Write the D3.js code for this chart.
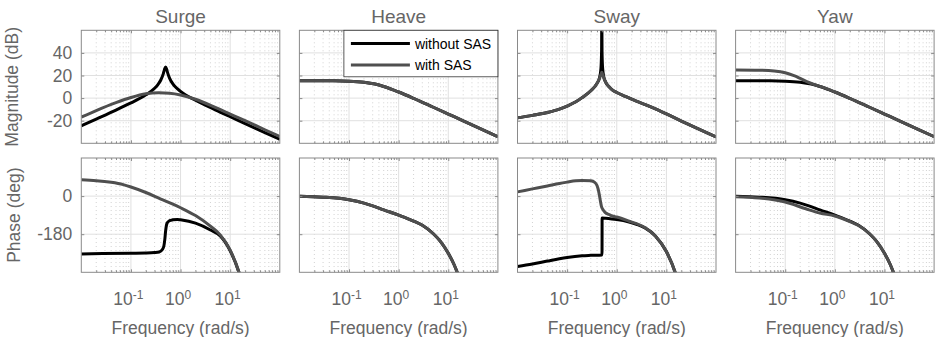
<!DOCTYPE html>
<html>
<head>
<meta charset="utf-8">
<style>
  body { margin: 0; background: #fff; }
  svg { font-family: "Liberation Sans", Arial, sans-serif; }
</style>
</head>
<body>
<div id="chart"></div>
<script src="https://d3js.org/d3.v7.min.js"></script>
<script>
// panel titles and axis ticks
const titles = ['Surge', 'Heave', 'Sway', 'Yaw'];
const magTicks = [-20, 0, 20, 40];
const phaseTicks = [-180, 0];
const freqTicks = [0.1, 1, 10];
const freqExponents = ['-1', '0', '1'];
const legendLabels = ['without SAS', 'with SAS'];

// [frequency rad/s, magnitude dB]
const surgeMagWithout = [[0.01,-24.6],[0.02,-18.6],[0.05,-10.6],[0.1,-4.3],[0.2,2.9],[0.3,8.7],[0.35,12],[0.4,16],[0.45,21.7],[0.475,25.4],[0.5,27.5],[0.525,25.6],[0.55,22.3],[0.6,17.7],[0.7,12.5],[0.8,9.6],[1,5.9],[2,-1.9],[5,-10.4],[10,-16.5],[20,-22.5],[50,-30.5],[100,-36.5]];
const surgeMagWith = [[0.01,-16.8],[0.02,-11],[0.05,-4],[0.1,0.5],[0.2,3.8],[0.365,4.7],[0.6,4.3],[1,2.8],[2,-1],[5,-8.2],[10,-14.1],[20,-20],[50,-28],[100,-34]];
const heaveMagWithout = [[0.01,15.4],[0.05,15.3],[0.1,15],[0.2,14],[0.335,12.4],[0.5,10.3],[1,5.4],[2,-0.2],[5,-8.1],[10,-14.1],[20,-20.1],[50,-28.1],[100,-34.1]];
const heaveMagWith = [[0.01,15.4],[0.05,15.3],[0.1,15],[0.2,14],[0.335,12.4],[0.5,10.3],[1,5.4],[2,-0.2],[5,-8.1],[10,-14.1],[20,-20.1],[50,-28.1],[100,-34.1]];
const swayMagWithout = [[0.01,-17.5],[0.02,-15.3],[0.04,-12.8],[0.07,-9.8],[0.1,-7],[0.15,-3.3],[0.2,0.4],[0.3,6.5],[0.4,13],[0.45,18],[0.48,26],[0.495,42],[0.5,80],[0.505,42],[0.52,26],[0.55,18.5],[0.6,14],[0.7,10],[0.8,7.5],[1,5],[1.5,1.5],[2,-0.9],[5,-8],[10,-14],[20,-20.3],[50,-28.3],[100,-34.4]];
const swayMagWith = [[0.01,-17.5],[0.02,-15.3],[0.04,-12.8],[0.07,-9.8],[0.1,-7],[0.15,-3.3],[0.2,0.4],[0.3,6.5],[0.4,13],[0.45,17.5],[0.48,21],[0.5,22.8],[0.52,21],[0.55,17.8],[0.6,14],[0.7,10],[0.8,7.5],[1,5],[1.5,1.5],[2,-0.9],[5,-8],[10,-14],[20,-20.3],[50,-28.3],[100,-34.4]];
const yawMagWithout = [[0.01,15.4],[0.05,15.3],[0.1,15],[0.2,14],[0.335,12.4],[0.5,10.3],[1,5.4],[2,-0.2],[5,-8.1],[10,-14.1],[20,-20.1],[50,-28.1],[100,-34.1]];
const yawMagWith = [[0.01,24.9],[0.03,24.7],[0.06,24],[0.1,22.4],[0.15,19.8],[0.2,17.4],[0.3,13.8],[0.4,11.7],[0.5,10.35],[0.7,8.1],[1,5.4],[2,-0.2],[5,-8.1],[10,-14.1],[20,-20.1],[50,-28.1],[100,-34.1]];

// [frequency rad/s, phase deg]
const surgePhaseWithout = [[0.01,-273],[0.1,-270],[0.2,-269],[0.3,-267],[0.37,-264],[0.43,-252],[0.46,-237],[0.48,-208],[0.5,-165],[0.52,-137],[0.54,-126],[0.6,-116],[0.7,-112],[0.86,-110],[1,-112],[2,-128],[4,-160],[6.3,-188],[10,-258],[15,-360],[20,-470]];
const surgePhaseWith = [[0.01,77],[0.02,73],[0.04,65],[0.07,54],[0.1,43],[0.2,17],[0.4,-14],[0.7,-38],[1,-55],[2,-92],[4,-142],[6.3,-183],[10,-255],[15,-360],[20,-470]];
const heavePhaseWithout = [[0.01,-1],[0.03,-5],[0.1,-17],[0.2,-33],[0.3,-46],[0.5,-65],[1,-90],[2,-118],[3,-138],[5,-178],[7,-215],[10,-270],[13,-322],[15,-358],[20,-460]];
const heavePhaseWith = [[0.01,-1],[0.03,-5],[0.1,-17],[0.2,-33],[0.3,-46],[0.5,-65],[1,-90],[2,-118],[3,-138],[5,-178],[7,-215],[10,-270],[13,-322],[15,-358],[20,-460]];
const swayPhaseWithout = [[0.01,-333],[0.02,-321],[0.04,-307],[0.07,-296],[0.1,-290],[0.2,-282],[0.3,-280],[0.505,-278],[0.507,-104],[0.6,-105],[0.8,-108],[1,-111],[1.7,-121],[2.5,-133],[3.7,-150],[6,-188],[10,-262],[15,-360],[20,-470]];
const swayPhaseWith = [[0.01,20],[0.02,34],[0.04,48],[0.07,60],[0.1,66],[0.15,72],[0.2,74],[0.3,72],[0.36,65],[0.4,50],[0.43,25],[0.45,0],[0.47,-25],[0.49,-47],[0.52,-62],[0.59,-78],[0.7,-87],[0.81,-94],[1,-99],[1.7,-117],[3.7,-149],[6,-188],[10,-262],[15,-360],[20,-470]];
const yawPhaseWithout = [[0.01,-1],[0.03,-5],[0.1,-17],[0.2,-33],[0.3,-46],[0.5,-65],[1,-90],[2,-118],[3,-138],[5,-178],[7,-215],[10,-270],[13,-322],[15,-358],[20,-460]];
const yawPhaseWith = [[0.01,-3],[0.03,-9],[0.1,-28],[0.26,-60],[0.5,-80],[1,-94],[2,-120],[3,-139],[5,-178],[7,-215],[10,-270],[13,-322],[15,-358],[20,-460]];

const magSeries = [
  [surgeMagWithout, surgeMagWith],
  [heaveMagWithout, heaveMagWith],
  [swayMagWithout, swayMagWith],
  [yawMagWithout, yawMagWith]
];
const phaseSeries = [
  [surgePhaseWithout, surgePhaseWith],
  [heavePhaseWithout, heavePhaseWith],
  [swayPhaseWithout, swayPhaseWith],
  [yawPhaseWithout, yawPhaseWith]
];

const colors = ['#000000', '#4f4f4f'];
const textColor = '#666';
const axisColor = '#8a8a8a';

const width = 936, height = 337;
const panelW = 198.5, step = 218.1, left0 = 81.3;
const magTop = 30.3, magBot = 143.3, phTop = 158, phBot = 272.3;

const svg = d3.select('#chart').append('svg')
  .attr('width', width)
  .attr('height', height);

function drawPanel(id, x, y, yTicks, data, showX) {
  const [x0, x1] = x.range();
  const [yb, yt] = y.range();
  const g = svg.append('g');

  g.append('clipPath').attr('id', id)
    .append('rect').attr('x', x0).attr('y', yt).attr('width', x1 - x0).attr('height', yb - yt);

  // minor grid (dotted)
  const minor = x.ticks().filter(v => Math.abs(Math.log10(v) - Math.round(Math.log10(v))) > 1e-6);
  g.selectAll('.minor').data(minor).join('line')
    .attr('x1', d => x(d)).attr('x2', d => x(d))
    .attr('y1', yt).attr('y2', yb)
    .attr('stroke', '#d2d2d2').attr('stroke-width', 1)
    .attr('stroke-dasharray', '1,3');

  // major grid
  g.selectAll('.vmaj').data(freqTicks).join('line')
    .attr('x1', d => x(d)).attr('x2', d => x(d))
    .attr('y1', yt).attr('y2', yb)
    .attr('stroke', '#e0e0e0').attr('stroke-width', 1);
  g.selectAll('.hmaj').data(yTicks).join('line')
    .attr('x1', x0).attr('x2', x1)
    .attr('y1', d => y(d)).attr('y2', d => y(d))
    .attr('stroke', '#e0e0e0').attr('stroke-width', 1);

  // curves
  const line = d3.line()
    .x(d => x(d[0]))
    .y(d => y(d[1]))
    .curve(d3.curveMonotoneX);
  const lines = g.append('g').attr('clip-path', `url(#${id})`);
  data.forEach((s, k) => {
    lines.append('path')
      .datum(s)
      .attr('fill', 'none')
      .attr('stroke', colors[k])
      .attr('stroke-width', 3)
      .attr('stroke-linejoin', 'round')
      .attr('d', line);
  });

  // box
  g.append('rect')
    .attr('x', x0).attr('y', yt).attr('width', x1 - x0).attr('height', yb - yt)
    .attr('fill', 'none').attr('stroke', axisColor).attr('stroke-width', 1);

  // inner ticks on all sides
  const tickStyle = a => a.call(s => s.select('.domain').remove())
    .call(s => s.selectAll('line').attr('stroke', axisColor));
  g.append('g').attr('transform', `translate(0,${yb})`)
    .call(d3.axisBottom(x).tickValues(minor).tickSize(-2).tickFormat('')).call(tickStyle);
  g.append('g').attr('transform', `translate(0,${yt})`)
    .call(d3.axisTop(x).tickValues(minor).tickSize(-2).tickFormat('')).call(tickStyle);
  g.append('g').attr('transform', `translate(0,${yt})`)
    .call(d3.axisTop(x).tickValues(freqTicks).tickSize(-3).tickFormat('')).call(tickStyle);
  g.append('g').attr('transform', `translate(${x1},0)`)
    .call(d3.axisRight(y).tickValues(yTicks).tickSize(-3).tickFormat('')).call(tickStyle);

  // left axis with labels
  if (x0 < 100) {
    g.append('g').attr('transform', `translate(${x0},0)`)
      .call(d3.axisLeft(y).tickValues(yTicks).tickSize(-3).tickPadding(9).tickFormat(d => String(d)))
      .call(tickStyle)
      .call(s => s.selectAll('text').attr('fill', textColor).attr('font-size', 17.5));
  } else {
    g.append('g').attr('transform', `translate(${x0},0)`)
      .call(d3.axisLeft(y).tickValues(yTicks).tickSize(-3).tickFormat(''))
      .call(tickStyle);
  }

  const bottom = g.append('g').attr('transform', `translate(0,${yb})`)
    .call(d3.axisBottom(x).tickValues(freqTicks).tickSize(-3).tickPadding(20).tickFormat(''))
    .call(tickStyle);
  if (showX) {
    bottom.selectAll('text')
      .attr('fill', textColor)
      .attr('font-size', 17.5)
      .attr('dx', -3)
      .each(function (d, i) {
        const t = d3.select(this);
        t.append('tspan').text('10');
        t.append('tspan').attr('dy', '-0.45em').attr('font-size', 12).text(freqExponents[i]);
      });
  }
  return g;
}

titles.forEach((title, i) => {
  const l = left0 + i * step;
  const x = d3.scaleLog().domain([0.01, 100]).range([l, l + panelW]);
  const yMag = d3.scaleLinear().domain([-40, 60]).range([magBot, magTop]);
  const yPh = d3.scaleLinear().domain([-360, 180]).range([phBot, phTop]);

  drawPanel('clipm' + i, x, yMag, magTicks, magSeries[i], false);
  drawPanel('clipp' + i, x, yPh, phaseTicks, phaseSeries[i], true);

  svg.append('text')
    .attr('x', l + panelW / 2).attr('y', 23.3)
    .attr('text-anchor', 'middle')
    .attr('font-size', 19).attr('fill', textColor)
    .text(title);

  svg.append('text')
    .attr('x', l + panelW / 2).attr('y', 334)
    .attr('text-anchor', 'middle')
    .attr('font-size', 17.5).attr('fill', textColor)
    .text('Frequency (rad/s)');

  // legend in the Heave panel
  if (i === 1) {
    const lw = 154, lh = 46.5;
    const lx = l + panelW - lw, ly = magTop;
    const leg = svg.append('g');
    leg.append('rect')
      .attr('x', lx).attr('y', ly).attr('width', lw).attr('height', lh)
      .attr('fill', '#fff').attr('stroke', '#333').attr('stroke-width', 0.8);
    legendLabels.forEach((lab, k) => {
      const cy = ly + 13.2 + k * 21.5;
      leg.append('line')
        .attr('x1', lx + 7).attr('x2', lx + 66)
        .attr('y1', cy).attr('y2', cy)
        .attr('stroke', colors[k]).attr('stroke-width', 3);
      leg.append('text')
        .attr('x', lx + 71).attr('y', cy + 5)
        .attr('font-size', 14).attr('fill', '#000')
        .text(lab);
    });
  }
});

svg.append('text')
  .attr('transform', `translate(18,${(magTop + magBot) / 2}) rotate(-90)`)
  .attr('text-anchor', 'middle')
  .attr('font-size', 17.5).attr('fill', textColor)
  .text('Magnitude (dB)');

svg.append('text')
  .attr('transform', `translate(19.5,${(phTop + phBot) / 2}) rotate(-90)`)
  .attr('text-anchor', 'middle')
  .attr('font-size', 17.5).attr('fill', textColor)
  .text('Phase (deg)');
</script>
</body>
</html>
